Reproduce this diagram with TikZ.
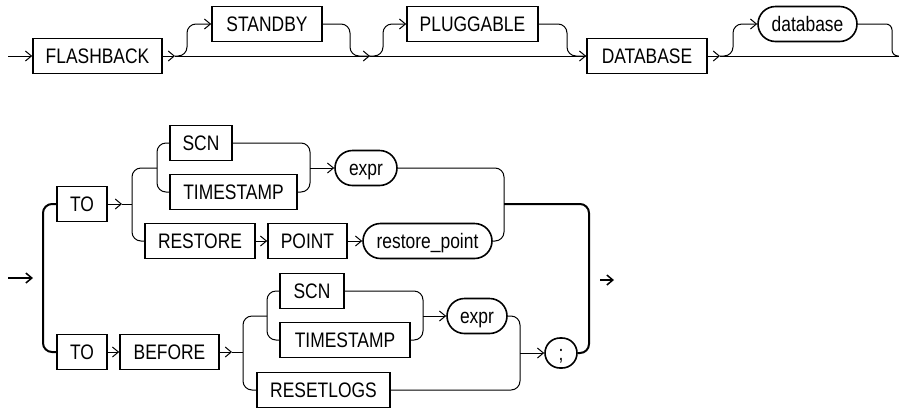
\documentclass[tikz,border=0pt]{standalone}
\usepackage{fontspec}
\setmainfont{Liberation Sans}[FakeStretch=0.83]
\usetikzlibrary{arrows.meta,shapes.misc}

\begin{document}
\begin{tikzpicture}[x=1pt,y=-1pt,
    font=\fontsize{21}{24}\selectfont,
    kw/.style={draw,line width=1.6pt,rectangle,minimum height=35pt,inner sep=0pt,text height=15pt,text depth=0pt},
    var/.style={draw,line width=1.6pt,rounded rectangle,minimum height=35pt,inner sep=0pt,text height=15pt,text depth=0pt},
    rail/.style={line width=1pt,rounded corners=9pt},
    bold rail/.style={line width=2pt,rounded corners=9pt},
    tip/.style={-{Straight Barb[length=6pt,width=10pt]}},
  ]
  \useasboundingbox (0,0) rectangle (899,408);

  % first line: FLASHBACK [STANDBY] [PLUGGABLE] DATABASE [database]
  \node[kw,minimum width=129pt] (flashback) at (97.5,56) {FLASHBACK};
  \node[kw,minimum width=110pt] (standby) at (267,24) {STANDBY};
  \node[kw,minimum width=131pt] (pluggable) at (472.5,24) {PLUGGABLE};
  \node[kw,minimum width=120pt] (databasekw) at (647,56) {DATABASE};
  \node[var,minimum width=99pt] (databasevar) at (807.5,24) {database};

  \coordinate (start1) at (8,56);
  \coordinate (j1) at (175,56);
  \coordinate (u1) at (187,56);
  \coordinate (d1) at (350,56);
  \coordinate (j2) at (370,56);
  \coordinate (u2) at (383,56);
  \coordinate (d2) at (567,56);
  \coordinate (j3) at (720,56);
  \coordinate (u3) at (733,56);
  \coordinate (d3) at (892,56);
  \coordinate (end1) at (899,56);

  \draw[rail,tip] (start1) -- (flashback.west);
  \draw[rail,tip] (flashback.east) -- (j1);
  \draw[rail,tip] (j1) -- (j2);
  \draw[rail,tip] (j2) -- (databasekw.west);
  \draw[rail,tip] (databasekw.east) -- (j3);
  \draw[rail] (j3) -- (end1);
  \draw[rail,tip] (j1) -- (u1) |- (standby.west);
  \draw[rail] (standby.east) -| (d1) -- (j2);
  \draw[rail,tip] (j2) -- (u2) |- (pluggable.west);
  \draw[rail] (pluggable.east) -| (d2) -- (databasekw.west);
  \draw[rail,tip] (j3) -- (u3) |- (databasevar.west);
  \draw[rail,rounded corners=6pt] (databasevar.east) -| (d3) -- (end1);

  % second line: TO ... / TO BEFORE ... ;
  \node[kw,minimum width=50pt] (to1) at (82,204) {TO};
  \node[kw,minimum width=62pt] (scn1) at (201,143) {SCN};
  \node[kw,minimum width=127pt] (ts1) at (233.5,192) {TIMESTAMP};
  \node[var,minimum width=62pt] (expr1) at (366,168) {expr};
  \node[kw,minimum width=110pt] (restore) at (200,241) {RESTORE};
  \node[kw,minimum width=79pt] (point) at (307.5,241) {POINT};
  \node[var,minimum width=129pt] (rpoint) at (427.5,241) {restore\_point};

  \node[kw,minimum width=50pt] (to2) at (82,352) {TO};
  \node[kw,minimum width=99pt] (before) at (169.5,352) {BEFORE};
  \node[kw,minimum width=64pt] (scn2) at (312,291) {SCN};
  \node[kw,minimum width=130pt] (ts2) at (345,340) {TIMESTAMP};
  \node[var,minimum width=60pt] (expr2) at (477,316) {expr};
  \node[kw,minimum width=133pt] (resetlogs) at (323.5,390) {RESETLOGS};
  \node[var,minimum width=32pt,minimum height=30pt] (semi) at (561,353) {;};

  \coordinate (start2) at (8,278);
  \coordinate (start2e) at (33,278);
  \coordinate (lv) at (43,352);
  \coordinate (ja) at (122,204);
  \coordinate (sa) at (132,204);
  \coordinate (sb) at (132,241);
  \coordinate (ga) at (157,168);
  \coordinate (gc) at (157,192);
  \coordinate (gd) at (310,192);
  \coordinate (gb) at (310,168);
  \coordinate (mA) at (504,241);
  \coordinate (ma) at (504,204);
  \coordinate (rr) at (589,353);
  \coordinate (jb) at (232,352);
  \coordinate (sc) at (243,352);
  \coordinate (sd) at (243,390);
  \coordinate (ge) at (267,316);
  \coordinate (gf) at (267,340);
  \coordinate (gg) at (423,340);
  \coordinate (gh) at (423,316);
  \coordinate (mB) at (520,390);
  \coordinate (mc) at (520,353);
  \coordinate (end2s) at (600,280);
  \coordinate (end2) at (614,280);

  \draw[line width=1.5pt,tip] (start2) -- (start2e);
  \draw[bold rail] (to1.west) -| (lv) -- (to2.west);

  \draw[rail,tip] (to1.east) -- (ja);
  \draw[rail] (ja) -- (sa);
  \draw[rail] (ga) -| (sb) -- (restore.west);
  \draw[rail] (scn1.west) -| (gc) -- (ts1.west);
  \draw[rail] (scn1.east) -| (gd) -- (ts1.east);
  \draw[rail,tip] (gb) -- (expr1.west);
  \draw[rail,tip] (restore.east) -- (point.west);
  \draw[rail,tip] (point.east) -- (rpoint.west);
  \draw[rail] (expr1.east) -| (mA) -- (rpoint.east);
  \draw[bold rail] (ma) -| (rr) -- (semi.east);

  \draw[rail,tip] (to2.east) -- (before.west);
  \draw[rail,tip] (before.east) -- (jb);
  \draw[rail] (jb) -- (sc);
  \draw[rail] (ge) -| (sd) -- (resetlogs.west);
  \draw[rail] (scn2.west) -| (gf) -- (ts2.west);
  \draw[rail] (scn2.east) -| (gg) -- (ts2.east);
  \draw[rail,tip] (gh) -- (expr2.west);
  \draw[rail] (expr2.east) -| (mB) -- (resetlogs.east);
  \draw[rail,tip] (mc) -- (semi.west);

  \draw[line width=1.5pt,tip] (end2s) -- (end2);
\end{tikzpicture}
\end{document}
